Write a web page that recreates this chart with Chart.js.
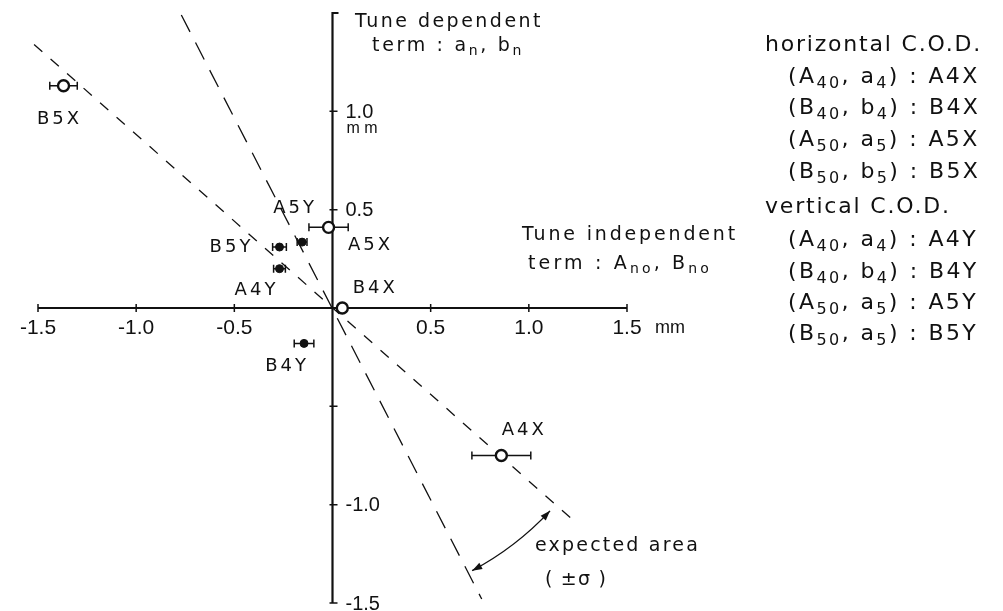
<!DOCTYPE html>
<html>
<head>
<meta charset="utf-8">
<script src="https://cdn.jsdelivr.net/npm/chart.js@4.4.1/dist/chart.umd.min.js"></script>
<style>
  html, body { margin: 0; padding: 0; background: #fff; }
  #wrap { width: 1003px; height: 611px; }
</style>
</head>
<body>
<div id="wrap"><canvas id="cod-chart" width="1003" height="611"></canvas></div>
<script>
// measured C.O.D. terms (mm)
const pointNames = ['A4X', 'B4X', 'A5X', 'B5X', 'A4Y', 'B4Y', 'A5Y', 'B5Y'];
const pointX = [0.86, 0.05, -0.02, -1.37, -0.27, -0.145, -0.155, -0.27];
const pointY = [-0.75, 0.0, 0.41, 1.13, 0.20, -0.18, 0.335, 0.31];
const pointXErr = [0.15, 0, 0.10, 0.07, 0.03, 0.05, 0.025, 0.035];
const isHorizontal = [true, true, true, true, false, false, false, false];

// expected area boundaries (dashed lines through origin)
const shallowLineX = [-1.52, 1.25];
const shallowLineY = [1.34, -1.10];
const steepLineX = [-0.77, 0.76];
const steepLineY = [1.49, -1.48];

const xTickValues = [-1.5, -1.0, -0.5, 0.5, 1.0, 1.5];
const xTickLabels = ['-1.5', '-1.0', '-0.5', '0.5', '1.0', '1.5'];
const yTickValues = [1.0, 0.5, -0.5, -1.0, -1.5];
const yTickLabels = ['1.0', '0.5', '', '-1.0', '-1.5'];

const legendRows = [
  'horizontal C.O.D.',
  '(A_{40}, a_{4}) : A4X',
  '(B_{40}, b_{4}) : B4X',
  '(A_{50}, a_{5}) : A5X',
  '(B_{50}, b_{5}) : B5X',
  'vertical C.O.D.',
  '(A_{40}, a_{4}) : A4Y',
  '(B_{40}, b_{4}) : B4Y',
  '(A_{50}, a_{5}) : A5Y',
  '(B_{50}, a_{5}) : B5Y'
];

// arc marking the expected area (radius in mm, angles in degrees, screen orientation)
const arcRadius = 1.515;
const arcFromDeg = 43;
const arcToDeg = 62;

const INK = '#111';
const SANS = '"DejaVu Sans", sans-serif';
const TICKFONT = '"Liberation Sans", Arial, sans-serif';

const labelOffset = {
  A4X: [23, -25], B4X: [33, -20], A5X: [42, 18], B5X: [-4, 34],
  A4Y: [-23, 22], B4Y: [-17, 23], A5Y: [-7, -34], B5Y: [-48, 0]
};

function parseRich(str) {
  return str.split(/_\{([^}]*)\}/)
    .map((t, i) => ({ text: t, sub: i % 2 === 1 }))
    .filter((p) => p.text);
}

function richWidth(ctx, segs, size, family) {
  ctx.letterSpacing = '0px';
  let w = 0, n = 0;
  segs.forEach((s) => {
    ctx.font = (s.sub ? Math.round(size * 0.72) : size) + 'px ' + family;
    w += ctx.measureText(s.text).width;
    n += s.text.length;
  });
  return { w, n };
}

// draws text with optional subscripts; spacing is either fixed or fitted to a width
function drawRich(ctx, str, x, y, size, family, opts) {
  const segs = parseRich(str);
  const m = richWidth(ctx, segs, size, family);
  let spacing = opts.spacing || 0;
  if (opts.width) spacing = (opts.width - m.w) / m.n;
  let cx = opts.align === 'center' ? x - (m.w + spacing * m.n) / 2 : x;
  ctx.textAlign = 'left';
  ctx.textBaseline = 'middle';
  segs.forEach((s) => {
    const fs = s.sub ? Math.round(size * 0.72) : size;
    ctx.font = fs + 'px ' + family;
    ctx.letterSpacing = '0px';
    const w0 = ctx.measureText(s.text).width;
    ctx.letterSpacing = spacing + 'px';
    ctx.fillText(s.text, cx, y + (s.sub ? size * 0.3 : 0));
    cx += w0 + spacing * s.text.length;
  });
  ctx.letterSpacing = '0px';
}

const axesPlugin = {
  id: 'axesPlugin',
  beforeDatasetsDraw(chart) {
    const { ctx, scales: { x, y } } = chart;
    const x0 = x.getPixelForValue(0);
    const y0 = y.getPixelForValue(0);
    ctx.save();
    ctx.strokeStyle = INK;
    ctx.fillStyle = INK;
    ctx.lineWidth = 2.2;
    ctx.beginPath();
    ctx.moveTo(x.getPixelForValue(-1.5), y0);
    ctx.lineTo(x.getPixelForValue(1.5), y0);
    ctx.moveTo(x0 + 6, y.getPixelForValue(1.5));
    ctx.lineTo(x0, y.getPixelForValue(1.5));
    ctx.lineTo(x0, y.getPixelForValue(-1.5));
    ctx.stroke();

    ctx.lineWidth = 1.5;
    ctx.beginPath();
    xTickValues.forEach((v) => {
      const px = x.getPixelForValue(v);
      ctx.moveTo(px, y0 - 4);
      ctx.lineTo(px, y0 + 4);
    });
    yTickValues.forEach((v) => {
      const py = y.getPixelForValue(v);
      ctx.moveTo(x0 - 3, py);
      ctx.lineTo(x0 + 5, py);
    });
    ctx.stroke();

    ctx.font = '21px ' + TICKFONT;
    ctx.textAlign = 'center';
    ctx.textBaseline = 'middle';
    xTickValues.forEach((v, i) => {
      ctx.fillText(xTickLabels[i], x.getPixelForValue(v), y0 + 20);
    });
    ctx.font = '20px ' + TICKFONT;
    ctx.textAlign = 'left';
    yTickValues.forEach((v, i) => {
      if (yTickLabels[i]) ctx.fillText(yTickLabels[i], x0 + 13, y.getPixelForValue(v) + 1);
    });
    ctx.font = '16px ' + TICKFONT;
    ctx.fillText('m m', x0 + 14, y.getPixelForValue(1.0) + 17);
    ctx.font = '18px ' + TICKFONT;
    ctx.fillText('mm', x.getPixelForValue(1.5) + 28, y0 + 20);

    // error bars
    ctx.lineWidth = 1.5;
    ctx.beginPath();
    pointNames.forEach((name, i) => {
      if (!pointXErr[i]) return;
      const py = y.getPixelForValue(pointY[i]);
      const xl = x.getPixelForValue(pointX[i] - pointXErr[i]);
      const xr = x.getPixelForValue(pointX[i] + pointXErr[i]);
      ctx.moveTo(xl, py);
      ctx.lineTo(xr, py);
      ctx.moveTo(xl, py - 4);
      ctx.lineTo(xl, py + 4);
      ctx.moveTo(xr, py - 4);
      ctx.lineTo(xr, py + 4);
    });
    ctx.stroke();
    ctx.restore();
  },
  afterDraw(chart) {
    const { ctx, scales: { x, y } } = chart;
    const x0 = x.getPixelForValue(0);
    const y0 = y.getPixelForValue(0);
    ctx.save();
    ctx.fillStyle = INK;
    ctx.strokeStyle = INK;

    // point labels
    pointNames.forEach((name, i) => {
      const off = labelOffset[name];
      drawRich(ctx, name, x.getPixelForValue(pointX[i]) + off[0], y.getPixelForValue(pointY[i]) + off[1],
        18, SANS, { spacing: 3, align: 'center' });
    });

    // axis titles
    drawRich(ctx, 'Tune dependent', 355, 22, 19, SANS, { width: 188 });
    drawRich(ctx, 'term : a_{n}, b_{n}', 372, 46, 19, SANS, { width: 152 });
    drawRich(ctx, 'Tune independent', 522, 235, 19, SANS, { width: 216 });
    drawRich(ctx, 'term : A_{no}, B_{no}', 528, 264, 19, SANS, { width: 184 });

    // legend
    const rowY = [45, 77, 108, 140, 172, 207, 240, 272, 303, 334];
    legendRows.forEach((row, i) => {
      const header = row.indexOf('C.O.D.') >= 0;
      drawRich(ctx, row, header ? 765 : 788, rowY[i], 22, SANS, { spacing: header ? 1.8 : 2.4 });
    });

    // expected area arc with arrowheads
    const r = x.getPixelForValue(arcRadius) - x0;
    const a1 = arcFromDeg * Math.PI / 180;
    const a2 = arcToDeg * Math.PI / 180;
    ctx.lineWidth = 1.4;
    ctx.beginPath();
    ctx.arc(x0, y0, r, a1, a2);
    ctx.stroke();
    function head(ang, dir) {
      const px = x0 + r * Math.cos(ang);
      const py = y0 + r * Math.sin(ang);
      const tx = -Math.sin(ang) * dir;
      const ty = Math.cos(ang) * dir;
      const nx = -ty, ny = tx;
      ctx.beginPath();
      ctx.moveTo(px, py);
      ctx.lineTo(px - tx * 10 + nx * 3.5, py - ty * 10 + ny * 3.5);
      ctx.lineTo(px - tx * 10 - nx * 3.5, py - ty * 10 - ny * 3.5);
      ctx.closePath();
      ctx.fill();
    }
    head(a2, 1);
    head(a1, -1);

    drawRich(ctx, 'expected area', 535, 546, 19, SANS, { width: 165 });
    drawRich(ctx, '( ±σ )', 545, 580, 19, SANS, { width: 62 });
    ctx.restore();
  }
};

function pointsFor(flag) {
  return pointNames
    .map((name, i) => ({ x: pointX[i], y: pointY[i], name, keep: isHorizontal[i] === flag }))
    .filter((p) => p.keep);
}

function lineData(xs, ys) {
  return xs.map((v, i) => ({ x: v, y: ys[i] }));
}

new Chart(document.getElementById('cod-chart'), {
  type: 'scatter',
  data: {
    datasets: [
      {
        data: lineData(steepLineX, steepLineY),
        order: 3,
        showLine: true,
        borderColor: INK,
        borderWidth: 1.3,
        borderDash: [19, 12],
        pointRadius: 0,
        clip: false
      },
      {
        data: lineData(shallowLineX, shallowLineY),
        order: 3,
        showLine: true,
        borderColor: INK,
        borderWidth: 1.3,
        borderDash: [11, 11],
        pointRadius: 0,
        clip: false
      },
      {
        data: pointsFor(true),
        order: 1,
        pointStyle: 'circle',
        pointRadius: 5.5,
        pointBackgroundColor: '#fff',
        pointBorderColor: INK,
        pointBorderWidth: 2.4,
        clip: false
      },
      {
        data: pointsFor(false),
        order: 1,
        pointStyle: 'circle',
        pointRadius: 4,
        pointBackgroundColor: INK,
        pointBorderColor: INK,
        pointBorderWidth: 1,
        clip: false
      }
    ]
  },
  options: {
    responsive: false,
    animation: false,
    devicePixelRatio: 1,
    layout: { padding: { left: 38, right: 376, top: 13, bottom: 8 } },
    scales: {
      x: { type: 'linear', min: -1.5, max: 1.5, display: false },
      y: { type: 'linear', min: -1.5, max: 1.5, display: false }
    },
    plugins: {
      legend: { display: false },
      tooltip: { enabled: false }
    }
  },
  plugins: [axesPlugin]
});
</script>
</body>
</html>
